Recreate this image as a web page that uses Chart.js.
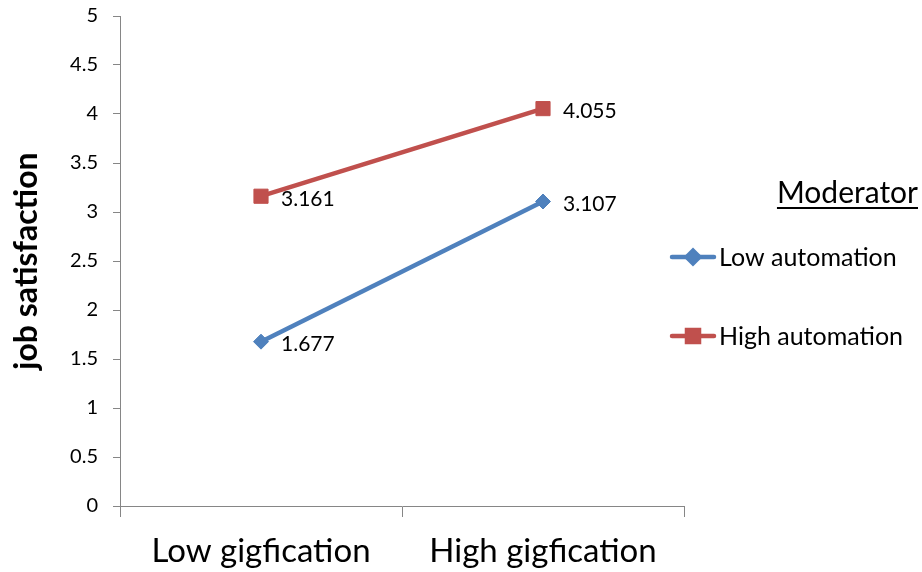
<!DOCTYPE html>
<html>
<head>
<meta charset="utf-8">
<script src="https://cdn.jsdelivr.net/npm/chart.js@4.4.0/dist/chart.umd.min.js"></script>
<style>
  html, body { margin: 0; padding: 0; background: #fff; }
  #wrap { width: 922px; height: 572px; }
</style>
</head>
<body>
<div id="wrap"><canvas id="chart"></canvas></div>
<script>
const categories = ["Low gigfication", "High gigfication"];
const lowAutomation = [1.677, 3.107];
const highAutomation = [3.161, 4.055];
const seriesNames = ["Low automation", "High automation"];
const legendTitle = "Moderator";
const yTitle = "job satisfaction";

const FONT = "Lato, 'Open Sans', sans-serif";
const axisGray = "#868686";

// value labels next to each point
const valueLabels = {
  id: "valueLabels",
  afterDatasetsDraw(chart) {
    const ctx = chart.ctx;
    ctx.save();
    ctx.font = "21px " + FONT;
    ctx.fillStyle = "#000";
    ctx.textBaseline = "middle";
    chart.data.datasets.forEach((ds, i) => {
      chart.getDatasetMeta(i).data.forEach((pt, j) => {
        ctx.fillText(ds.data[j].toFixed(3), pt.x + 20, pt.y + 3);
      });
    });
    ctx.restore();
  }
};

// legend on the right, Excel style: line with marker
const sideLegend = {
  id: "sideLegend",
  afterDraw(chart) {
    const ctx = chart.ctx;
    ctx.save();
    ctx.fillStyle = "#000";
    ctx.font = "30px " + FONT;
    ctx.textBaseline = "alphabetic";
    ctx.textAlign = "right";
    const tw = ctx.measureText(legendTitle).width;
    ctx.fillText(legendTitle, 918, 203);
    ctx.fillRect(918 - tw, 207, tw, 2);

    ctx.textAlign = "left";
    ctx.textBaseline = "middle";
    ctx.font = "25px " + FONT;
    const rows = [257, 336];
    chart.data.datasets.forEach((ds, i) => {
      const y = rows[i];
      ctx.strokeStyle = ds.borderColor;
      ctx.lineWidth = 4.5;
      ctx.lineCap = "round";
      ctx.beginPath();
      ctx.moveTo(672, y);
      ctx.lineTo(714, y);
      ctx.stroke();
      Chart.helpers.drawPoint(ctx, {
        pointStyle: ds.pointStyle,
        radius: ds.pointRadius * 0.85,
        borderWidth: 1
      }, 693, y);
      ctx.fillStyle = ds.borderColor;
      ctx.fill();
      ctx.fillStyle = "#000";
      ctx.fillText(ds.label, 719, y + 1);
    });
    ctx.restore();
  }
};

new Chart(document.getElementById("chart"), {
  type: "line",
  data: {
    labels: categories,
    datasets: [
      {
        label: seriesNames[0],
        data: lowAutomation,
        borderColor: "#4F81BD",
        backgroundColor: "#4F81BD",
        borderWidth: 4.5,
        pointStyle: "rectRot",
        pointRadius: 7.5,
        pointBorderWidth: 1
      },
      {
        label: seriesNames[1],
        data: highAutomation,
        borderColor: "#C0504D",
        backgroundColor: "#C0504D",
        borderWidth: 4.5,
        pointStyle: "rect",
        pointRadius: 10,
        pointBorderWidth: 1
      }
    ]
  },
  options: {
    responsive: true,
    maintainAspectRatio: false,
    animation: false,
    layout: { padding: { left: 0, top: 16, right: 238, bottom: 0 } },
    plugins: {
      legend: { display: false },
      tooltip: { enabled: false }
    },
    scales: {
      x: {
        offset: true,
        afterFit(s) { s.height = 66; },
        grid: {
          offset: true,
          drawOnChartArea: false,
          drawTicks: true,
          tickLength: 11,
          color: axisGray
        },
        border: { color: axisGray, width: 1 },
        ticks: {
          color: "#000",
          padding: 15,
          font: { family: FONT, size: 33 }
        }
      },
      y: {
        min: 0,
        max: 5,
        afterFit(s) {
          s.width = 120;
          s.paddingTop = 0;
          s.paddingBottom = 0;
        },
        grid: {
          drawOnChartArea: false,
          drawTicks: true,
          tickLength: 7,
          color: axisGray
        },
        border: { color: axisGray, width: 1 },
        ticks: {
          stepSize: 0.5,
          color: "#000",
          padding: 15,
          font: { family: FONT, size: 20 },
          callback: (v) => v
        },
        title: {
          display: true,
          text: yTitle,
          color: "#000",
          padding: { top: 7, bottom: 0 },
          font: { family: FONT, size: 32, weight: "bold" }
        }
      }
    }
  },
  plugins: [valueLabels, sideLegend]
});
</script>
</body>
</html>
